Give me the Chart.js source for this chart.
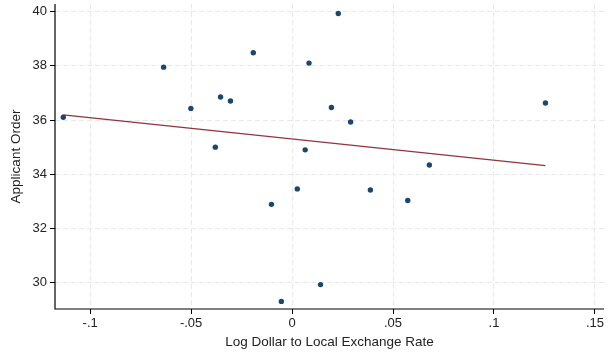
<!DOCTYPE html>
<html>
<head>
<meta charset="utf-8">
<script src="https://cdn.jsdelivr.net/npm/chart.js@4.4.1/dist/chart.umd.min.js"></script>
<style>
  html, body { margin: 0; padding: 0; background: #fff; }
  #wrap { width: 608px; height: 352px; }
</style>
</head>
<body>
<div id="wrap"><canvas id="grafico"></canvas></div>
<script>
// Valores
const pontosX = [-0.1133, -0.0636, -0.0501, -0.0380, -0.0354, -0.0305, -0.0192, 0.0084, 0.0229, 0.0195,
                 0.0290, 0.0065, 0.1255, 0.0680, -0.0102, 0.0026, 0.0388, 0.0141, -0.0053, 0.0573];
const pontosY = [36.10, 37.95, 36.43, 35.00, 36.85, 36.70, 38.48, 38.10, 39.93, 36.46,
                 35.93, 34.90, 36.63, 34.34, 32.89, 33.46, 33.42, 29.93, 29.31, 33.03];

// Reta ajustada (extremos)
const retaX = [-0.1133, 0.1255];
const retaY = [36.19, 34.32];

const ticksX = [-0.1, -0.05, 0, 0.05, 0.1, 0.15];
const rotulosX = ["-.1", "-.05", "0", ".05", ".1", ".15"];
const ticksY = [30, 32, 34, 36, 38, 40];

const fonte = "'Liberation Sans', Arial, sans-serif";

// Desenha as linhas dos eixos (esquerda e base) por cima da grade
const eixosPlugin = {
    id: "eixos",
    afterDraw: function (chart) {
        const a = chart.chartArea;
        const ctx = chart.ctx;
        ctx.save();
        ctx.strokeStyle = "#000";
        ctx.lineWidth = 1.2;
        ctx.setLineDash([]);
        ctx.beginPath();
        ctx.moveTo(a.left, a.top);
        ctx.lineTo(a.left, a.bottom);
        ctx.lineTo(a.right, a.bottom);
        ctx.stroke();
        ctx.restore();
    }
};

document.addEventListener("DOMContentLoaded", function () {
    const contexto = document.getElementById("grafico").getContext("2d");

    new Chart(contexto, {
        type: "scatter",
        data: {
            datasets: [
                {
                    label: "Applicant Order",
                    data: pontosX.map((x, i) => ({ x: x, y: pontosY[i] })),
                    backgroundColor: "#1a476f",
                    borderColor: "#1a476f",
                    pointRadius: 2.7,
                    pointBorderWidth: 0,
                    order: 1
                },
                {
                    label: "Fitted values",
                    type: "line",
                    data: retaX.map((x, i) => ({ x: x, y: retaY[i] })),
                    borderColor: "#90353b",
                    borderWidth: 1.3,
                    pointRadius: 0,
                    fill: false,
                    order: 2
                }
            ]
        },
        options: {
            responsive: true,
            maintainAspectRatio: false,
            animation: false,
            layout: { padding: { top: 3, right: 0, left: 0, bottom: 0 } },
            plugins: {
                legend: { display: false },
                tooltip: { enabled: false }
            },
            scales: {
                x: {
                    type: "linear",
                    min: -0.1174,
                    max: 0.1545,
                    afterBuildTicks: function (eixo) {
                        eixo.ticks = ticksX.map(v => ({ value: v }));
                    },
                    afterFit: function (eixo) {
                        eixo.height = 43;
                        eixo.paddingLeft = 0;
                        eixo.paddingRight = 0;
                    },
                    ticks: {
                        color: "#222",
                        font: { family: fonte, size: 13 },
                        padding: 2,
                        maxRotation: 0,
                        autoSkip: false,
                        callback: function (v) {
                            const i = ticksX.findIndex(t => Math.abs(t - v) < 1e-9);
                            return i >= 0 ? rotulosX[i] : "";
                        }
                    },
                    grid: {
                        color: "#e8e8e8",
                        tickColor: "#000",
                        tickBorderDash: [],
                        tickLength: 5,
                        lineWidth: 1
                    },
                    border: { display: false, dash: [5, 3] },
                    title: {
                        display: true,
                        text: "Log Dollar to Local Exchange Rate",
                        color: "#222",
                        font: { family: fonte, size: 13.5 },
                        padding: { top: 0, bottom: 2 }
                    }
                },
                y: {
                    type: "linear",
                    min: 29.03,
                    max: 40.28,
                    afterBuildTicks: function (eixo) {
                        eixo.ticks = ticksY.map(v => ({ value: v }));
                    },
                    afterFit: function (eixo) {
                        eixo.width = 55;
                        eixo.paddingTop = 0;
                        eixo.paddingBottom = 0;
                    },
                    ticks: {
                        color: "#222",
                        font: { family: fonte, size: 13 },
                        padding: 3
                    },
                    grid: {
                        color: "#e8e8e8",
                        tickColor: "#000",
                        tickBorderDash: [],
                        tickLength: 5,
                        lineWidth: 1
                    },
                    border: { display: false, dash: [5, 3] },
                    title: {
                        display: true,
                        text: "Applicant Order",
                        color: "#222",
                        font: { family: fonte, size: 13.5 },
                        padding: { top: 8.5, bottom: 0 }
                    }
                }
            }
        },
        plugins: [eixosPlugin]
    });
});
</script>
</body>
</html>
